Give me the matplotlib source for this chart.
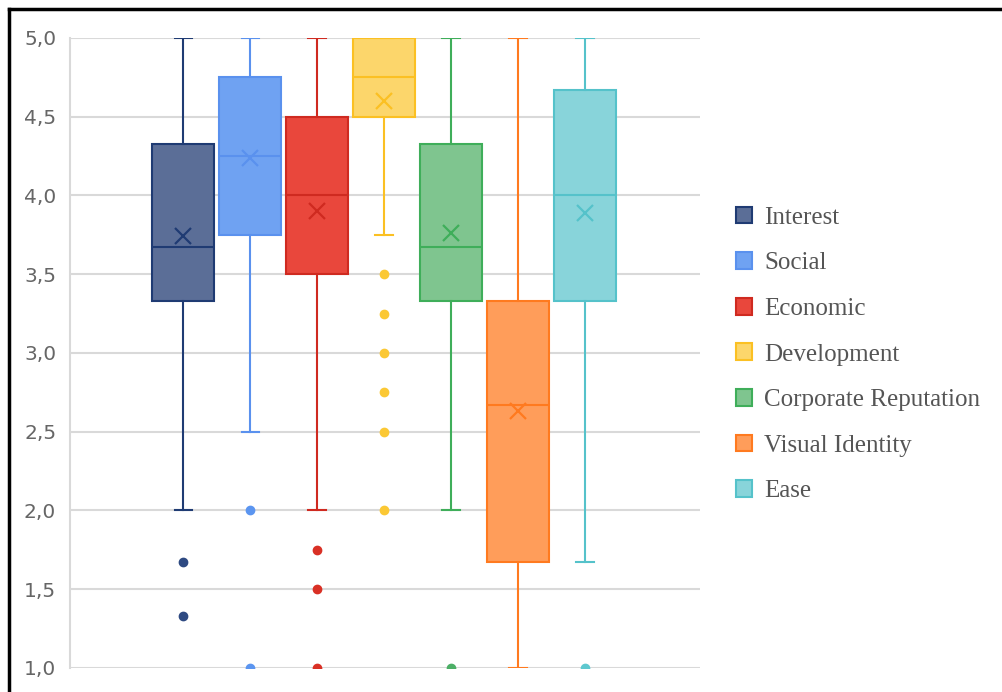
import matplotlib.pyplot as plt
from matplotlib.lines import Line2D
from matplotlib.patches import Patch

names = ["Interest", "Social", "Economic", "Development",
         "Corporate Reputation", "Visual Identity", "Ease"]
whislo = [2.0, 2.5, 2.0, 3.75, 2.0, 1.0, 1.67]
q1 = [3.33, 3.75, 3.5, 4.5, 3.33, 1.67, 3.33]
med = [3.67, 4.25, 4.0, 4.75, 3.67, 2.67, 4.0]
q3 = [4.33, 4.75, 4.5, 5.0, 4.33, 3.33, 4.67]
whishi = [5.0, 5.0, 5.0, 5.0, 5.0, 5.0, 5.0]
means = [3.74, 4.24, 3.90, 4.60, 3.76, 2.63, 3.89]
fliers = [[1.67, 1.33], [2.0, 1.0], [1.75, 1.5, 1.0],
          [3.5, 3.25, 3.0, 2.75, 2.5, 2.0], [1.0], [], [1.0]]

faces = ["#5b6e97", "#6fa2f2", "#e9473c", "#fcd66b", "#7fc58f", "#ff9d5a", "#88d4da"]
edges = ["#1f3b73", "#5a91ee", "#cf2a20", "#fbc023", "#3fae5a", "#ff7a1f", "#55c2ca"]
dots = ["#2e4a82", "#5b95f0", "#d93025", "#fbc834", "#4caf66", "#ff7a1f", "#5ec8cf"]

plt.rcParams["font.family"] = "DejaVu Sans"
fig = plt.figure(figsize=(10.02, 6.92), dpi=100)
ax = fig.add_axes([0.0699, 0.0347, 0.629, 0.9104])

for i in range(len(names)):
    st = dict(whislo=whislo[i], q1=q1[i], med=med[i], q3=q3[i], whishi=whishi[i],
              mean=means[i], fliers=fliers[i], label=names[i])
    ax.bxp([st], positions=[i + 1], widths=0.925, capwidths=0.26,
           showmeans=True, patch_artist=True,
           boxprops=dict(facecolor=faces[i], edgecolor=edges[i], linewidth=1.5),
           medianprops=dict(color=edges[i], linewidth=1.5),
           whiskerprops=dict(color=edges[i], linewidth=1.5),
           capprops=dict(color=edges[i], linewidth=1.5),
           meanprops=dict(marker="x", markeredgecolor=edges[i], markersize=11,
                          markeredgewidth=1.6),
           flierprops=dict(marker="o", markerfacecolor=dots[i], markeredgecolor=dots[i],
                           markersize=6))

ax.set_xlim(-0.69, 8.72)
ax.set_ylim(1.0, 5.0)
ax.set_yticks([1.0, 1.5, 2.0, 2.5, 3.0, 3.5, 4.0, 4.5, 5.0])
ax.set_yticklabels(["1,0", "1,5", "2,0", "2,5", "3,0", "3,5", "4,0", "4,5", "5,0"])
ax.set_xticks([])
ax.yaxis.grid(True, color="#d9d9d9", linewidth=1.5, zorder=0)
ax.set_axisbelow(True)
ax.tick_params(axis="y", length=0, pad=10, labelsize=14.5, labelcolor="#666666")
for s in ["top", "right", "bottom"]:
    ax.spines[s].set_visible(False)
ax.spines["left"].set_color("#d9d9d9")
ax.spines["left"].set_linewidth(1.5)
for t in ax.get_yticklabels():
    t.set_clip_on(False)

handles = [Patch(facecolor=faces[i], edgecolor=edges[i], linewidth=1.5) for i in range(len(names))]
leg = fig.legend(handles, names, loc="center left", bbox_to_anchor=(0.7116, 0.4877),
                 frameon=False, handlelength=0.65, handleheight=0.65, handletextpad=0.5,
                 labelspacing=0.94,
                 prop=dict(family="Liberation Serif", size=18))
for t in leg.get_texts():
    t.set_color("#555555")

fig.add_artist(Line2D([0.009, 0.009], [0, 0.987], color="black", linewidth=2.5,
                      transform=fig.transFigure))
fig.add_artist(Line2D([0.009, 1.0], [0.987, 0.987], color="black", linewidth=2.5,
                      transform=fig.transFigure))

fig.savefig("out.png", dpi=100)
